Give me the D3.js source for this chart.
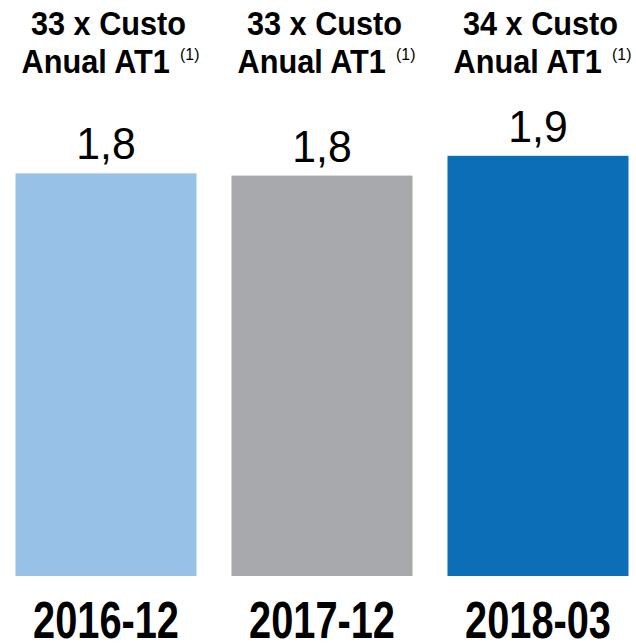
<!DOCTYPE html>
<html><head><meta charset="utf-8">
<script src="https://cdn.jsdelivr.net/npm/d3@7"></script>
<style>body{margin:0;background:#fff}svg{display:block}</style>
</head><body>
<script>
const categories = ["2016-12", "2017-12", "2018-03"];
const values = [1.83, 1.82, 1.91];
const multiples = ["33", "33", "34"];
const headerLine2 = "Anual AT1";
const footnote = "(1)";
const colors = ["#97C1E7", "#A7A8AB", "#0B6EB6"];

const W = 636, H = 643;
const svg = d3.select("body").append("svg").attr("width", W).attr("height", H);
const font = "Liberation Sans, Arial, sans-serif";

const x = d3.scaleBand().domain(categories).range([15.5, 628.5]).paddingInner(0.162).paddingOuter(0);
const y = d3.scaleLinear().domain([0, 2]).range([576, 136]);
const fmt = v => d3.format(".1f")(v).replace(".", ",");
const cx = d => x(d) + x.bandwidth() / 2;

svg.selectAll("rect.bar").data(categories).join("rect")
  .attr("class", "bar")
  .attr("x", d => x(d)).attr("width", x.bandwidth())
  .attr("y", (d, i) => y(values[i])).attr("height", (d, i) => y(0) - y(values[i]))
  .attr("fill", (d, i) => colors[i]);

svg.selectAll("text.val").data(categories).join("text")
  .attr("class", "val")
  .attr("transform", (d, i) => `translate(${cx(d)},${y(values[i]) - 14}) scale(0.95,1)`)
  .attr("text-anchor", "middle")
  .attr("font-family", font).attr("font-size", 45).attr("fill", "#000")
  .text((d, i) => fmt(values[i]));

svg.selectAll("text.cat").data(categories).join("text")
  .attr("class", "cat")
  .attr("transform", d => `translate(${cx(d)},638) scale(0.78,1)`)
  .attr("text-anchor", "middle")
  .attr("font-family", font).attr("font-weight", "bold").attr("font-size", 51).attr("fill", "#000")
  .text(d => d);

const hdr = svg.selectAll("g.hdr").data(categories).join("g").attr("class", "hdr");
hdr.append("text")
  .attr("transform", d => `translate(${cx(d) + 2.5},35) scale(0.93,1)`)
  .attr("text-anchor", "middle")
  .attr("font-family", font).attr("font-weight", "bold").attr("font-size", 33)
  .text((d, i) => multiples[i] + " x Custo");
const l2 = hdr.append("text")
  .attr("transform", d => `translate(${cx(d) + 4.5},73) scale(0.93,1)`)
  .attr("text-anchor", "middle")
  .attr("font-family", font).attr("font-weight", "bold").attr("font-size", 33);
l2.append("tspan").text(headerLine2);
l2.append("tspan").attr("font-weight", "normal").attr("font-size", 17).attr("dx", 11).attr("dy", -13).text(footnote);
</script>
</body></html>
